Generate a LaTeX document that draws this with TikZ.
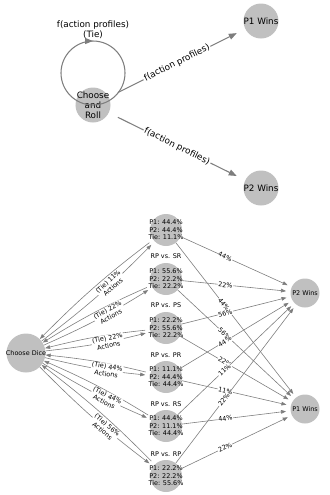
\documentclass[tikz,border=0pt]{standalone}
\usepackage{fontspec}
\setmainfont{DejaVu Sans}
\usetikzlibrary{arrows.meta,positioning,decorations.markings}
\definecolor{nodegray}{RGB}{192,192,192}
\definecolor{edgegray}{RGB}{125,125,125}

\begin{document}
\begin{tikzpicture}[
  x=0.03cm, y=0.03cm,
  bigstate/.style={circle, fill=nodegray, minimum size=1.05cm, inner sep=0pt},
  midstate/.style={circle, fill=nodegray, minimum size=0.96cm, inner sep=0pt},
  winstate/.style={circle, fill=nodegray, minimum size=0.87cm, inner sep=0pt},
  dicestate/.style={circle, fill=nodegray, minimum size=1.17cm, inner sep=0pt},
  bigtxt/.style={font=\fontsize{7.5}{8.5}\selectfont, align=center, inner sep=0pt},
  smalltxt/.style={font=\fontsize{5.5}{6.4}\selectfont, align=center, inner sep=0pt},
  bigarr/.style={draw=edgegray, line width=0.9pt, -{Triangle[length=2.4mm, width=1.8mm]}, shorten <=0.3cm, shorten >=0.28cm},
  smallarr/.style={draw=edgegray, line width=0.5pt, -{Triangle[length=1.5mm, width=1.1mm]}},
  biglbl/.style={bigtxt, fill=white, sloped, inner sep=1pt},
  smalllbl/.style={smalltxt, fill=white, sloped, inner sep=0.6pt}
]
\useasboundingbox (0,0) rectangle (330,-495);
% Game overview
\node[bigstate, label={[bigtxt]center:Choose\\and\\Roll}] (roll) at (93,-105) {};
\node[bigstate, label={[bigtxt]center:P1 Wins}] (p1top) at (261,-21) {};
\node[bigstate, label={[bigtxt]center:P2 Wins}] (p2top) at (261,-188) {};
\draw[bigarr] (roll) -- node[biglbl] (f1) {f(action profiles)} (p1top);
\draw[bigarr] (roll) -- node[biglbl] (f2) {f(action profiles)} (p2top);
\draw[draw=edgegray, line width=0.9pt, postaction={decorate},
  decoration={markings, mark=at position 0.5 with {\arrow{Triangle[length=2.4mm, width=1.8mm]}}}]
  (roll.center) arc[start angle=-90, delta angle=-360, radius=32];
\node[bigtxt] (looplbl) at (93,-30) {f(action profiles)\\(Tie)};
% Dice choice
\node[dicestate, label={[smalltxt]center:Choose Dice}] (dice) at (26,-353) {};
\node[midstate, label={[smalltxt]center:P1: 44.4\%\\P2: 44.4\%\\Tie: 11.1\%}] (m1) at (166,-230) {};
\node[midstate, label={[smalltxt]center:P1: 55.6\%\\P2: 22.2\%\\Tie: 22.2\%}] (m2) at (166,-279) {};
\node[midstate, label={[smalltxt]center:P1: 22.2\%\\P2: 55.6\%\\Tie: 22.2\%}] (m3) at (166,-328) {};
\node[midstate, label={[smalltxt]center:P1: 11.1\%\\P2: 44.4\%\\Tie: 44.4\%}] (m4) at (166,-377) {};
\node[midstate, label={[smalltxt]center:P1: 44.4\%\\P2: 11.1\%\\Tie: 44.4\%}] (m5) at (166,-426) {};
\node[midstate, label={[smalltxt]center:P1: 22.2\%\\P2: 22.2\%\\Tie: 55.6\%}] (m6) at (166,-476) {};
\node[smalltxt] (v1) at (166,-256) {RP vs. SR};
\node[smalltxt] (v2) at (166,-305) {RP vs. PS};
\node[smalltxt] (v3) at (166,-355) {RP vs. PR};
\node[smalltxt] (v4) at (166,-404) {RP vs. RS};
\node[smalltxt] (v5) at (166,-454) {RP vs. RP};
\node[winstate, label={[smalltxt]center:P2 Wins}] (p2bot) at (305,-293) {};
\node[winstate, label={[smalltxt]center:P1 Wins}] (p1bot) at (305,-409) {};
% Dice to matchups and back
\draw[smallarr, bend right=4, shorten <=0.14cm] (m1) to (dice);
\draw[smallarr, bend right=4, shorten >=0.14cm] (dice) to node[smalllbl, pos=0.6] (t1) {(Tie) 11\%\\Actions} (m1);
\draw[smallarr, bend right=4, shorten <=0.14cm] (m2) to (dice);
\draw[smallarr, bend right=4, shorten >=0.14cm] (dice) to node[smalllbl, pos=0.6] (t2) {(Tie) 22\%\\Actions} (m2);
\draw[smallarr, bend right=4, shorten <=0.14cm] (m3) to (dice);
\draw[smallarr, bend right=4, shorten >=0.14cm] (dice) to node[smalllbl, pos=0.6] (t3) {(Tie) 22\%\\Actions} (m3);
\draw[smallarr, bend right=4, shorten <=0.14cm] (m4) to (dice);
\draw[smallarr, bend right=4, shorten >=0.14cm] (dice) to node[smalllbl, pos=0.6] (t4) {(Tie) 44\%\\Actions} (m4);
\draw[smallarr, bend right=4, shorten <=0.14cm] (m5) to (dice);
\draw[smallarr, bend right=4, shorten >=0.14cm] (dice) to node[smalllbl, pos=0.6] (t5) {(Tie) 44\%\\Actions} (m5);
\draw[smallarr, bend right=4, shorten <=0.14cm] (m6) to (dice);
\draw[smallarr, bend right=4, shorten >=0.14cm] (dice) to node[smalllbl, pos=0.6] (t6) {(Tie) 56\%\\Actions} (m6);
% Matchups to outcomes
\draw[smallarr, shorten >=0.13cm] (m1) -- node[smalllbl, pos=0.4] (a1) {44\%} (p2bot);
\draw[smallarr, shorten >=0.13cm] (m1) -- node[smalllbl, pos=0.4] (b1) {44\%} (p1bot);
\draw[smallarr, shorten >=0.13cm] (m2) -- node[smalllbl, pos=0.4] (a2) {22\%} (p2bot);
\draw[smallarr, shorten >=0.13cm] (m2) -- node[smalllbl, pos=0.4] (b2) {56\%} (p1bot);
\draw[smallarr, shorten >=0.13cm] (m3) -- node[smalllbl, pos=0.4] (a3) {56\%} (p2bot);
\draw[smallarr, shorten >=0.13cm] (m3) -- node[smalllbl, pos=0.4] (b3) {22\%} (p1bot);
\draw[smallarr, shorten >=0.13cm] (m4) -- node[smalllbl, pos=0.4] (a4) {44\%} (p2bot);
\draw[smallarr, shorten >=0.13cm] (m4) -- node[smalllbl, pos=0.4] (b4) {11\%} (p1bot);
\draw[smallarr, shorten >=0.13cm] (m5) -- node[smalllbl, pos=0.4] (a5) {11\%} (p2bot);
\draw[smallarr, shorten >=0.13cm] (m5) -- node[smalllbl, pos=0.4] (b5) {44\%} (p1bot);
\draw[smallarr, shorten >=0.13cm] (m6) -- node[smalllbl, pos=0.4] (a6) {22\%} (p2bot);
\draw[smallarr, shorten >=0.13cm] (m6) -- node[smalllbl, pos=0.4] (b6) {22\%} (p1bot);
\end{tikzpicture}
\end{document}
